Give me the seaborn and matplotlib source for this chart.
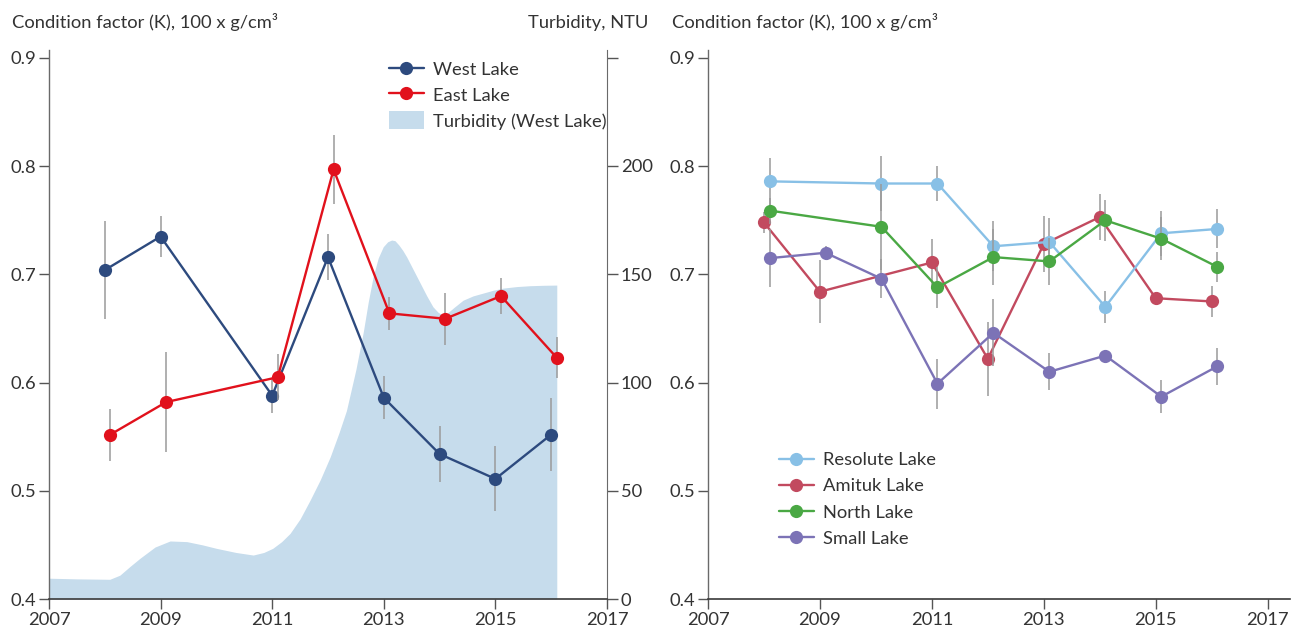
import numpy as np
import pandas as pd
import seaborn as sns
import matplotlib.pyplot as plt
from matplotlib.patches import Patch
from matplotlib.lines import Line2D

# West / East lake condition factor (left panel)
west_years = [2008, 2009, 2011, 2012, 2013, 2014, 2015, 2016]
west_k = [0.704, 0.735, 0.588, 0.716, 0.586, 0.534, 0.511, 0.552]
west_err = [0.045, 0.019, 0.016, 0.021, 0.020, 0.026, 0.030, 0.034]

east_years = [2008.1, 2009.1, 2011.1, 2012.1, 2013.1, 2014.1, 2015.1, 2016.1]
east_k = [0.552, 0.582, 0.605, 0.797, 0.664, 0.659, 0.680, 0.623]
east_err = [0.024, 0.046, 0.021, 0.032, 0.015, 0.024, 0.017, 0.019]

# Turbidity (West Lake), NTU
turb_years = [2007.0, 2007.5, 2008.09, 2008.27, 2008.45, 2008.63, 2008.9, 2009.17,
              2009.47, 2009.75, 2010.0, 2010.35, 2010.66, 2010.85, 2011.01, 2011.17,
              2011.32, 2011.5, 2011.68, 2011.86, 2012.04, 2012.2, 2012.33, 2012.5,
              2012.63, 2012.72, 2012.81, 2012.9, 2012.99, 2013.07, 2013.14, 2013.2,
              2013.27, 2013.34, 2013.41, 2013.5, 2013.65, 2013.77, 2013.88, 2013.97,
              2014.06, 2014.16, 2014.25, 2014.42, 2014.6, 2014.78, 2014.96, 2015.14,
              2015.38, 2015.62, 2015.86, 2016.1]
turb_ntu = [9.6, 9.3, 9.1, 11.0, 15.0, 18.8, 24.0, 26.8,
            26.5, 25.0, 23.4, 21.5, 20.3, 21.5, 23.4, 26.5,
            30.3, 37.0, 45.7, 55.0, 65.7, 77.0, 87.0, 106.0,
            123.0, 137.0, 149.0, 157.5, 162.7, 165.0, 165.8, 165.5,
            163.5, 161.0, 158.0, 153.5, 146.0, 140.0, 135.0, 132.5,
            131.0, 132.5, 134.5, 138.0, 140.0, 141.3, 142.6, 143.6,
            144.3, 144.7, 144.9, 145.0]

# Right panel lakes
resolute_years = [2008.1, 2010.1, 2011.1, 2012.1, 2013.1, 2014.1, 2015.1, 2016.1]
resolute_k = [0.786, 0.784, 0.784, 0.726, 0.730, 0.670, 0.738, 0.742]
resolute_err = [0.022, 0.025, 0.016, 0.023, 0.022, 0.015, 0.021, 0.018]

amituk_years = [2008, 2009, 2011, 2012, 2013, 2014, 2015, 2016]
amituk_k = [0.748, 0.684, 0.711, 0.622, 0.728, 0.753, 0.678, 0.675]
amituk_err = [0.010, 0.029, 0.022, 0.034, 0.026, 0.021, 0.004, 0.014]

north_years = [2008.1, 2010.1, 2011.1, 2012.1, 2013.1, 2014.1, 2015.1, 2016.1]
north_k = [0.759, 0.744, 0.688, 0.716, 0.712, 0.750, 0.733, 0.707]
north_err = [0.012, 0.040, 0.019, 0.026, 0.022, 0.019, 0.020, 0.014]

small_years = [2008.1, 2009.1, 2010.1, 2011.1, 2012.1, 2013.1, 2014.1, 2015.1, 2016.1]
small_k = [0.715, 0.720, 0.696, 0.599, 0.646, 0.610, 0.625, 0.587, 0.615]
small_err = [0.027, 0.006, 0.018, 0.023, 0.031, 0.017, 0.004, 0.015, 0.017]

year_ticks = [2007, 2009, 2011, 2013, 2015, 2017]
k_ticks = [0.4, 0.5, 0.6, 0.7, 0.8, 0.9]
ntu_ticks = [0, 50, 100, 150, 200, 250]
ntu_labels = ['0', '50', '100', '150', '200', '']

sns.set_style('white')
plt.rcParams['font.family'] = ['Lato', 'DejaVu Sans']
FS = 13.2
plt.rcParams['font.size'] = FS

TXT = '#333333'
ERR = '#9a9a9a'

fig = plt.figure(figsize=(12.97, 6.30), dpi=100)
W, H = 1297, 630
axL = fig.add_axes([49 / W, 1 - 599 / H, 558 / W, 549 / H])
axR = fig.add_axes([708 / W, 1 - 599 / H, 582 / W, 549 / H])
ax2 = axL.twinx()


def draw_series(ax, years, k, err, color, label, z):
    ax.vlines(years, np.array(k) - np.array(err), np.array(k) + np.array(err),
              color=ERR, lw=1.1, zorder=z - 0.5)
    df = pd.DataFrame({'year': years, 'k': k})
    sns.lineplot(data=df, x='year', y='k', ax=ax, color=color, lw=1.7,
                 marker='o', markersize=9.5, markeredgewidth=0, zorder=z,
                 label=label, legend=False)


# ---- left panel ----
ax2.fill_between(turb_years, 0, turb_ntu, color='#c6dcec', lw=0, zorder=1)
ax2.set_ylim(0, (599 - 50) / 2.165)
ax2.set_yticks(ntu_ticks)
ax2.set_yticklabels(ntu_labels)

axL.set_zorder(ax2.get_zorder() + 1)
axL.patch.set_visible(False)

west_c = '#2d4a7e'
east_c = '#e1111c'
draw_series(axL, west_years, west_k, west_err, west_c, 'West Lake', 4)
draw_series(axL, east_years, east_k, east_err, east_c, 'East Lake', 5)

# ---- right panel ----
lakes = [
    ('Resolute Lake', resolute_years, resolute_k, resolute_err, '#88c0e6', 4),
    ('Amituk Lake', amituk_years, amituk_k, amituk_err, '#c24a5f', 3),
    ('North Lake', north_years, north_k, north_err, '#4aa844', 5),
    ('Small Lake', small_years, small_k, small_err, '#7c73b6', 6),
]
for name, yrs, k, err, col, z in lakes:
    draw_series(axR, yrs, k, err, col, name, z)

# ---- axes styling ----
for ax, xmax in [(axL, 2017), (axR, 2017.4)]:
    ax.set_xlim(2007, xmax)
    ax.set_ylim(0.4, 0.4 + (599 - 50) / 1082)
    ax.set_xticks(year_ticks)
    ax.set_yticks(k_ticks)
    ax.set_yticklabels([f'{v:.1f}' for v in k_ticks])
    ax.set_xlabel('')
    ax.set_ylabel('')
    for s in ['top', 'right']:
        ax.spines[s].set_visible(False)
    ax.spines['left'].set_color('#6a6a6a')
    ax.spines['bottom'].set_color('#3a3a3a')
    ax.spines['left'].set_linewidth(1.0)
    ax.spines['bottom'].set_linewidth(1.2)
    ax.tick_params(axis='x', direction='out', length=7, width=1, color='#555555',
                   labelcolor=TXT, labelsize=FS, pad=2.5, bottom=True)
    ax.tick_params(axis='y', direction='out', length=7, width=1, color='#555555',
                   labelcolor=TXT, labelsize=FS, pad=2, left=True)

for s in ['top', 'left', 'bottom']:
    ax2.spines[s].set_visible(False)
ax2.spines['right'].set_color('#6a6a6a')
ax2.tick_params(axis='y', direction='out', length=8, width=1, color='#555555',
                labelcolor=TXT, labelsize=FS, pad=2, right=True)

# ---- legends ----
hL = [Line2D([], [], color=west_c, lw=1.7, marker='o', ms=9.5, mew=0),
      Line2D([], [], color=east_c, lw=1.7, marker='o', ms=9.5, mew=0),
      Patch(facecolor='#c6dcec', edgecolor='none')]
axL.legend(hL, ['West Lake', 'East Lake', 'Turbidity (West Lake)'],
           loc='upper left', bbox_to_anchor=(389 / W, 1 - 60 / H),
           bbox_transform=fig.transFigure, frameon=False, fontsize=FS,
           borderpad=0, borderaxespad=0, handlelength=1.9, handleheight=1.1,
           handletextpad=0.5, labelspacing=0.42, labelcolor=TXT)

hR = [Line2D([], [], color=c, lw=1.7, marker='o', ms=9.5, mew=0) for _, _, _, _, c, _ in lakes]
axR.legend(hR, [n for n, *_ in lakes], loc='upper left',
           bbox_to_anchor=(779 / W, 1 - 452 / H), bbox_transform=fig.transFigure,
           frameon=False, fontsize=FS, borderpad=0, borderaxespad=0,
           handlelength=1.9, handletextpad=0.5, labelspacing=0.56, labelcolor=TXT)

# ---- axis titles ----
fig.text(12 / W, 1 - 28 / H, 'Condition factor (K), 100 x g/cm³', ha='left',
         va='baseline', fontsize=FS, color=TXT)
fig.text(648 / W, 1 - 28 / H, 'Turbidity, NTU', ha='right', va='baseline',
         fontsize=FS, color=TXT)
fig.text(672 / W, 1 - 28 / H, 'Condition factor (K), 100 x g/cm³', ha='left',
         va='baseline', fontsize=FS, color=TXT)

fig.savefig('out.png', dpi=100)
